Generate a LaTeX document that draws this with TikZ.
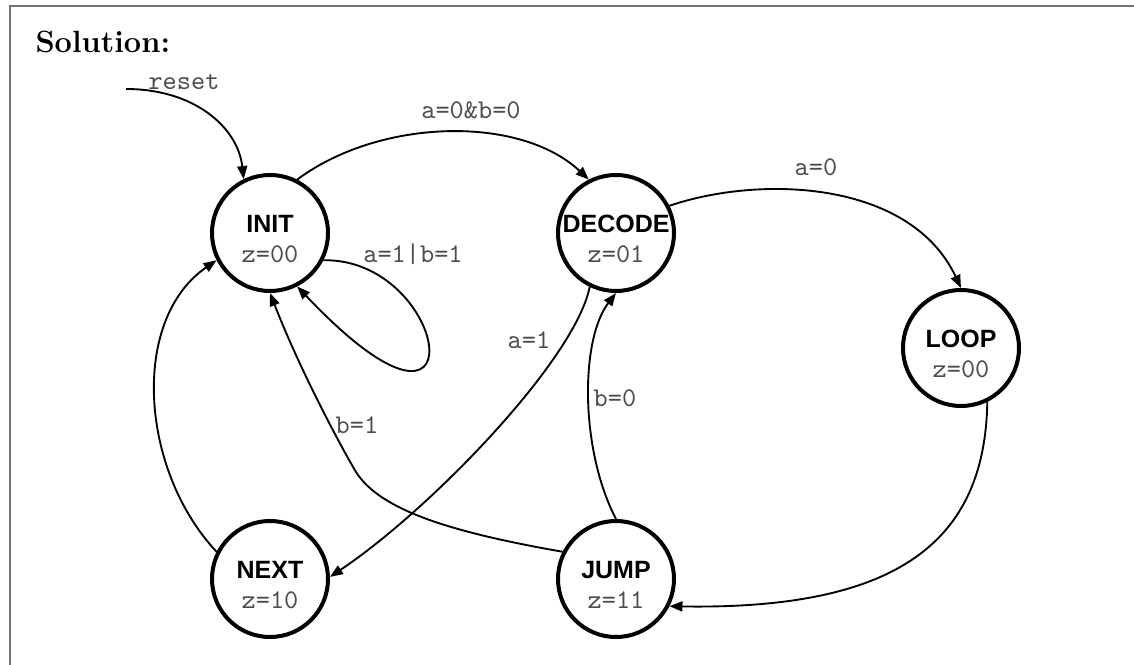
\documentclass[tikz,border=0pt]{standalone}
\usepackage{fontspec}
\newfontfamily\statefont{Liberation Sans}
\usetikzlibrary{arrows.meta}
\definecolor{framegray}{gray}{0.45}
\definecolor{txtgray}{gray}{0.3}
\begin{document}
\begin{tikzpicture}[x=0.4pt,y=-0.4pt,
  state/.style={circle,draw,line width=1.6pt,minimum size=46.4pt,inner sep=0pt},
  sname/.style={anchor=base,inner sep=0pt,font=\statefont\bfseries\fontsize{10}{12}\selectfont},
  sval/.style={anchor=base,inner sep=0pt,text=txtgray,font=\ttfamily\fontsize{10.8}{12}\selectfont},
  elabel/.style={anchor=base,inner sep=0pt,text=txtgray,font=\ttfamily\fontsize{10.8}{12}\selectfont},
  edge/.style={line width=0.75pt,-{Triangle[length=5.2pt,width=4pt]}}]
\useasboundingbox (0,0) rectangle (1134,665);
\draw[framegray,line width=0.8pt] (10,665) -- (10,6) -- (1134,6);
\node[anchor=base west,inner sep=0pt,font=\bfseries\fontsize{12.3}{14}\selectfont] (title) at (35,53) {Solution:};

\node[state] (init) at (270,233) {};
\node[state] (decode) at (616,233) {};
\node[state] (loop) at (961,348) {};
\node[state] (next) at (270,579) {};
\node[state] (jump) at (616,579) {};

\node[sname] (initn) at (270,233) {INIT};
\node[sval] (initv) at (270,263) {z=00};
\node[sname] (decoden) at (616,233) {DECODE};
\node[sval] (decodev) at (616,263) {z=01};
\node[sname] (loopn) at (961,348) {LOOP};
\node[sval] (loopv) at (961,378) {z=00};
\node[sname] (nextn) at (270,579) {NEXT};
\node[sval] (nextv) at (270,609) {z=10};
\node[sname] (jumpn) at (616,579) {JUMP};
\node[sval] (jumpv) at (616,609) {z=11};

\coordinate (rst) at (126,89);
\coordinate (bend) at (356,472);
\draw[edge] (rst) .. controls (195,89) and (238,128) .. (init.116);
\draw[edge] (init.63) .. controls (380,118) and (520,115) .. (decode.117);
\draw[edge] (decode.27) .. controls (760,175) and (910,180) .. (loop.90);
\draw[edge] (init.-27) .. controls (450,258) and (485,485) .. (init.-63);
\draw[edge] (decode.-116) .. controls (575,360) and (430,510) .. (next.2);
\draw[edge] (jump.90) .. controls (580,450) and (580,340) .. (decode.-90);
\draw[edge] (jump.153) .. controls (450,532) and (380,510) .. (bend) .. controls (340,445) and (300,370) .. (init.-90);
\draw[edge] (next.153) .. controls (140,470) and (130,320) .. (init.207);
\draw[edge] (loop.-64) .. controls (985,540) and (900,610) .. (jump.-27);

\node[elabel] (lreset) at (184,90) {reset};
\node[elabel] (l1) at (471,119) {a=0\&b=0};
\node[elabel] (l2) at (816,176) {a=0};
\node[elabel] (l3) at (413,263) {a=1|b=1};
\node[elabel] (l4) at (529,349) {a=1};
\node[elabel] (l5) at (615,407) {b=0};
\node[elabel] (l6) at (357,434) {b=1};
\end{tikzpicture}
\end{document}
